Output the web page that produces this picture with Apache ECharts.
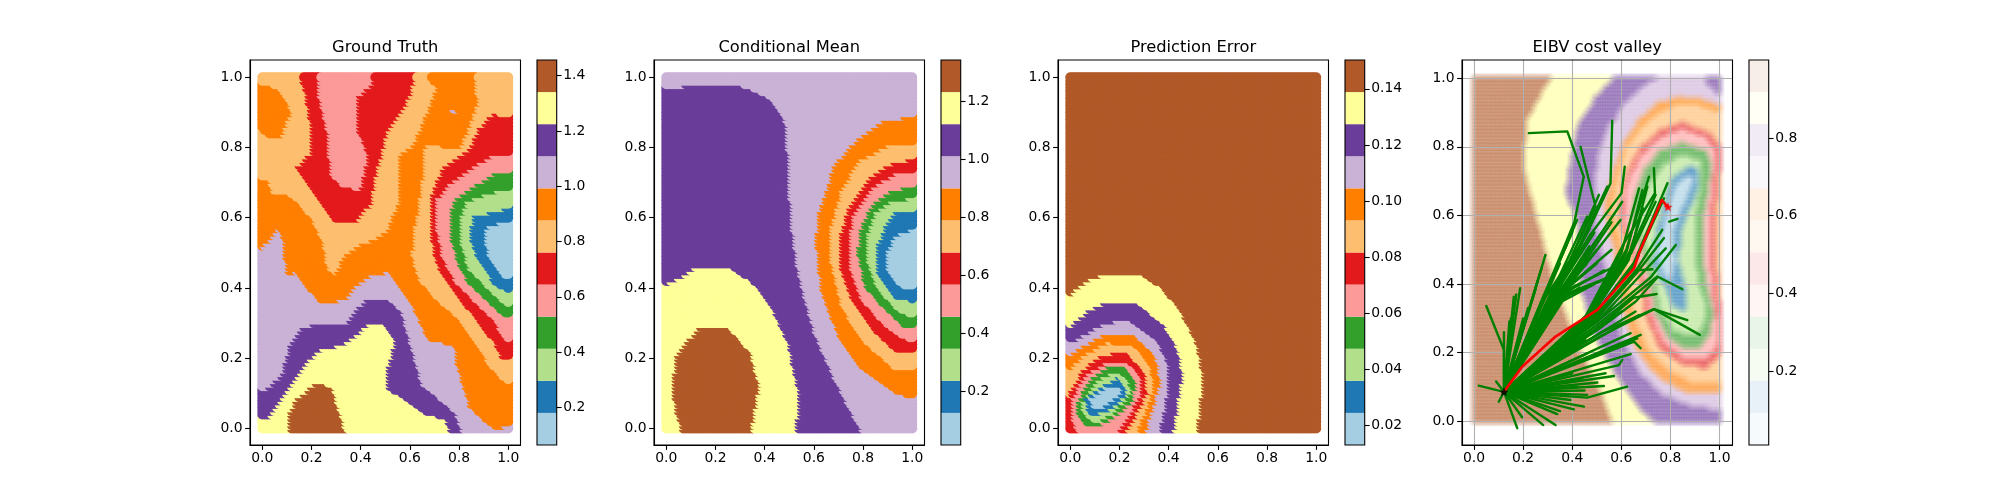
<!DOCTYPE html>
<html><head><meta charset="utf-8">
<style>html,body{margin:0;padding:0;background:#fff}#c{width:2000px;height:500px}</style>
<script src="https://cdn.jsdelivr.net/npm/echarts@6/dist/echarts.min.js"></script>
</head><body><div id="c"></div>
<script>
const paired=['#a6cee3','#1f78b4','#b2df8a','#33a02c','#fb9a99','#e31a1c','#fdbf6f','#ff7f00','#cab2d6','#6a3d9a','#ffff99','#b15928'];
const titles=['Ground Truth','Conditional Mean','Prediction Error','EIBV cost valley'];
const axisTicks=[0,0.2,0.4,0.6,0.8,1.0];
const cbRange1=[0.0637,1.4567], cbTicks1=[0.2,0.4,0.6,0.8,1.0,1.2,1.4];
const cbRange2=[0.0138,1.341],  cbTicks2=[0.2,0.4,0.6,0.8,1.0,1.2];
const cbRange3=[0.013,0.1503],  cbTicks3=[0.02,0.04,0.06,0.08,0.10,0.12,0.14];
const cbRange4=[0.0094,1.0009], cbTicks4=[0.2,0.4,0.6,0.8];

// Band outlines: [band index, outline]; later entries paint over earlier ones.
const truthBands=[
[7,[[.688,1.05],[.871,1.05],[.871,.988],[.886,.935],[.854,.869],[.814,.807],[.739,.810],[.671,.814],[.664,.736],[.644,.632],[.623,.556],[.619,.499],[.644,.432],[.712,.375],[.793,.328],[.861,.261],[.943,.176],[1.05,.10],[1.05,.024],[.956,.003],[.916,.024],[.848,.071],[.820,.138],[.793,.204],[.793,.237],[.739,.252],[.684,.256],[.623,.347],[.548,.432],[.521,.451],[.453,.446],[.392,.413],[.344,.375],[.249,.361],[.194,.404],[.147,.451],[.106,.446],[.092,.546],[.072,.575],[.004,.518],[-.05,.503],[-.05,.722],[.031,.712],[.052,.674],[.113,.670],[.160,.646],[.208,.603],[.249,.546],[.276,.461],[.303,.446],[.344,.499],[.412,.532],[.466,.546],[.521,.575],[.562,.651],[.568,.783],[.623,.817],[.671,.893],[.718,.974],[.688,.997]]],
[7,[[-.05,.978],[.024,.988],[.072,.973],[.127,.912],[.086,.840],[.031,.836],[-.05,.883]]],
[8,[[-.05,.503],[.004,.518],[.072,.575],[.092,.546],[.106,.446],[.147,.451],[.194,.404],[.249,.361],[.344,.375],[.392,.413],[.453,.446],[.521,.451],[.548,.432],[.623,.347],[.684,.256],[.739,.252],[.793,.237],[.793,.204],[.820,.138],[.848,.071],[.916,.024],[.956,.003],[1.05,.024],[1.05,-.05],[-.05,-.05]]],
[9,[[-.05,.104],[.018,.114],[.086,.157],[.120,.242],[.174,.299],[.344,.304],[.392,.347],[.439,.380],[.514,.380],[.575,.337],[.616,.232],[.657,.128],[.739,.085],[.793,.052],[.841,-.05],[-.05,-.05]]],
[10,[[-.05,.024],[.031,.038],[.127,.128],[.167,.176],[.235,.228],[.344,.247],[.453,.309],[.500,.309],[.548,.252],[.514,.166],[.514,.119],[.589,.090],[.670,.048],[.752,.033],[.793,-.05],[-.05,-.05]]],
[11,[[.113,-.05],[.120,.052],[.147,.090],[.228,.138],[.290,.124],[.324,.048],[.364,-.05]]],
[5,[[.164,1.05],[.630,1.05],[.616,.960],[.575,.912],[.521,.860],[.466,.717],[.453,.651],[.392,.599],[.303,.594],[.249,.641],[.194,.698],[.147,.751],[.208,.793],[.201,.879],[.181,.964],[.164,.998]]],
[4,[[.235,1.05],[.466,1.05],[.453,.988],[.392,.945],[.392,.860],[.439,.783],[.405,.684],[.331,.698],[.283,.726],[.276,.840],[.235,.964]]],
[8,[[.770,.916],[.800,.909],[.776,.905]]],
[5,[[1.05,.893],[.943,.902],[.888,.860],[.854,.807],[.739,.746],[.698,.670],[.691,.594],[.704,.508],[.739,.442],[.820,.366],[.888,.309],[.949,.252],[.983,.204],[1.05,.209]]],
[4,[[1.05,.779],[.956,.789],[.875,.755],[.766,.698],[.718,.660],[.718,.575],[.739,.499],[.793,.423],[.875,.366],[.956,.309],[.997,.252],[1.05,.247]]],
[3,[[1.05,.732],[.949,.732],[.875,.698],[.793,.660],[.772,.622],[.772,.556],[.806,.470],[.848,.418],[.929,.366],[.990,.323],[1.05,.318]]],
[2,[[1.05,.684],[.929,.679],[.840,.651],[.813,.603],[.813,.537],[.848,.461],[.915,.413],[.997,.356],[1.05,.352]]],
[1,[[1.05,.651],[.956,.622],[.868,.617],[.854,.556],[.875,.499],[.956,.413],[1.05,.385]]],
[0,[[1.05,.603],[.929,.584],[.915,.565],[.922,.508],[.997,.432],[1.05,.437]]]
];
const truthBase=6;

const meanBands=[
[9,[[-.05,.969],[.038,.973],[.106,.986],[.297,.986],[.420,.950],[.488,.888],[.501,.783],[.514,.594],[.542,.451],[.609,.280],[.691,.147],[.834,-.05],[-.05,-.05]]],
[10,[[-.05,.399],[.052,.432],[.120,.461],[.269,.461],[.351,.427],[.433,.356],[.501,.252],[.541,.119],[.541,.043],[.524,-.05],[-.05,-.05]]],
[11,[[.086,-.05],[.045,.062],[.031,.128],[.052,.223],[.147,.299],[.256,.299],[.351,.223],[.385,.128],[.365,.043],[.337,-.05]]],
[7,[[1.05,.899],[.895,.883],[.786,.831],[.691,.755],[.630,.622],[.616,.537],[.637,.404],[.705,.271],[.800,.176],[.922,.114],[.977,.100],[1.05,.100]]],
[6,[[1.05,.817],[.909,.812],[.786,.765],[.718,.679],[.678,.575],[.678,.480],[.718,.356],[.800,.261],[.936,.176],[1.05,.172]]],
[5,[[1.05,.779],[.922,.760],[.827,.717],[.752,.641],[.718,.556],[.718,.461],[.759,.375],[.841,.290],[.936,.228],[1.05,.221]]],
[4,[[1.05,.731],[.936,.731],[.841,.689],[.773,.622],[.752,.546],[.759,.461],[.800,.375],[.882,.309],[.977,.261],[1.05,.252]]],
[3,[[1.05,.702],[.922,.684],[.841,.641],[.800,.575],[.786,.508],[.814,.413],[.895,.347],[.977,.294],[1.05,.290]]],
[2,[[1.05,.665],[.922,.655],[.861,.622],[.827,.556],[.820,.489],[.868,.404],[.963,.332],[1.05,.323]]],
[1,[[1.05,.627],[.936,.622],[.895,.575],[.861,.518],[.868,.442],[.936,.375],[1.05,.366]]],
[0,[[1.05,.584],[.936,.556],[.902,.499],[.909,.451],[.963,.408],[1.05,.404]]]
];
const meanBase=8;

const errorBands=[
[10,[[-.05,.389],[.001,.385],[.090,.432],[.137,.442],[.301,.442],[.376,.408],[.450,.347],[.518,.252],[.546,.157],[.539,.081],[.512,-.05],[-.05,-.05]]],
[9,[[-.05,.299],[.001,.294],[.090,.347],[.137,.361],[.280,.361],[.389,.304],[.444,.233],[.464,.157],[.444,.062],[.416,-.05],[-.05,-.05]]],
[8,[[-.05,.237],[.035,.261],[.144,.304],[.239,.318],[.355,.261],[.403,.195],[.403,.100],[.355,-.05],[-.05,-.05]]],
[7,[[-.05,.185],[.063,.242],[.144,.275],[.267,.275],[.355,.214],[.376,.138],[.335,.043],[.294,-.05],[-.05,-.05]]],
[6,[[-.05,.138],[.063,.214],[.158,.252],[.267,.242],[.335,.185],[.348,.119],[.301,.033],[.253,-.05],[-.05,-.05]]],
[5,[[.001,.100],[.063,.176],[.137,.218],[.239,.223],[.314,.166],[.321,.109],[.267,.033],[.199,-.05],[.008,-.05],[-.012,.043]]],
[4,[[.015,.090],[.069,.157],[.158,.195],[.239,.195],[.294,.157],[.294,.100],[.239,.033],[.144,-.05],[.063,-.05],[.015,.033]]],
[3,[[.035,.081],[.090,.147],[.171,.190],[.233,.185],[.273,.142],[.267,.090],[.212,.052],[.124,.014],[.069,.014],[.035,.052]]],
[2,[[.056,.085],[.103,.133],[.185,.171],[.246,.147],[.253,.104],[.185,.052],[.124,.024],[.076,.033],[.056,.062]]],
[1,[[.069,.090],[.131,.123],[.199,.152],[.233,.123],[.233,.100],[.171,.062],[.103,.043],[.076,.057]]],
[0,[[.090,.090],[.158,.128],[.205,.128],[.219,.109],[.151,.071],[.103,.062]]]
];
const errorBase=11;

const costBands=[
[10,[[.33,1.05],[.318,1.01],[.216,.879],[.203,.742],[.250,.616],[.278,.538],[.332,.393],[.441,.198],[.509,.101],[.59,-.05],[1.05,-.05],[1.05,1.05]]],
[9,[[.59,1.05],[.577,1.01],[.495,.947],[.420,.859],[.393,.762],[.373,.665],[.420,.587],[.44,.49],[.43,.40],[.454,.344],[.495,.247],[.577,.140],[.659,.052],[.740,-.006],[.76,-.05],[1.05,-.05],[1.05,1.05]]],
[8,[[.79,1.05],[.781,1.01],[.70,.985],[.62,.93],[.55,.86],[.51,.78],[.495,.71],[.49,.62],[.50,.56],[.53,.47],[.55,.38],[.60,.25],[.68,.14],[.77,.08],[.89,.045],[1.05,.033],[1.05,.96],[.99,.96],[.95,.985],[.91,1.05]]],
[7,[[1.05,.91],[.931,.942],[.835,.951],[.75,.93],[.67,.88],[.605,.81],[.565,.72],[.53,.626],[.577,.490],[.590,.393],[.618,.295],[.672,.198],[.754,.130],[.863,.086],[1.05,.086]]],
[6,[[1.05,.888],[.917,.922],[.835,.927],[.755,.90],[.685,.86],[.62,.80],[.585,.713],[.56,.62],[.611,.490],[.631,.393],[.659,.295],[.713,.208],[.795,.150],[.890,.116],[1.05,.111]]],
[5,[[.97,.84],[.849,.874],[.76,.85],[.68,.80],[.635,.742],[.605,.684],[.592,.587],[.659,.461],[.686,.393],[.699,.315],[.754,.218],[.849,.169],[.944,.155],[1.0,.19],[1.02,.25],[1.0,.36],[.985,.47],[.985,.60],[1.0,.72],[1.02,.79]]],
[4,[[.95,.83],[.85,.855],[.75,.825],[.675,.77],[.64,.72],[.615,.67],[.61,.59],[.675,.46],[.705,.39],[.72,.32],[.77,.235],[.85,.19],[.94,.18],[.985,.21],[1.0,.26],[.98,.36],[.965,.47],[.965,.60],[.98,.72],[.99,.78]]],
[3,[[.95,.79],[.85,.815],[.76,.79],[.70,.74],[.665,.68],[.645,.60],[.70,.47],[.725,.39],[.74,.32],[.79,.25],[.85,.22],[.93,.22],[.965,.26],[.975,.32],[.95,.40],[.935,.47],[.935,.60],[.96,.70],[.97,.75]]],
[2,[[.93,.76],[.85,.78],[.78,.75],[.72,.70],[.685,.64],[.67,.58],[.72,.47],[.745,.39],[.76,.33],[.81,.27],[.87,.25],[.92,.26],[.945,.30],[.945,.34],[.92,.40],[.905,.47],[.905,.60],[.93,.70]]],
[1,[[.876,.747],[.808,.713],[.747,.568],[.727,.461],[.78,.393],[.808,.334],[.863,.325],[.869,.363],[.835,.47],[.849,.568],[.917,.684],[.910,.738]]],
[0,[[.876,.718],[.822,.694],[.781,.597],[.747,.509],[.754,.461],[.80,.40],[.822,.47],[.81,.548],[.863,.645],[.897,.713]]]
];
const costBase=11;

const startPoint=[.122,.086];
const endPoint=[.79,.625];
const chosenPath=[[.122,.086],[.196,.159],[.332,.247],[.502,.325],[.563,.373],[.652,.446],[.672,.49],[.765,.645],[.79,.624]];
const strayPaths=[[[.795,.582],[.829,.59]]];
const candidatePaths=[
[[.122,.208],[.05,.336]],[[.122,.26]],[[.144,.291]],[[.15,.30]],[[.162,.363]],[[.172,.37]],[[.188,.388]],
[[.20,.30]],[[.22,.33]],[[.25,.383]],[[.26,.41]],[[.275,.446]],[[.291,.485]],
[[.38,.519]],[[.407,.577]],[[.42,.587]],[[.30,.35],[.461,.597]],
[[.28,.36],[.40,.55],[.447,.713],[.38,.845],[.223,.84]],
[[.29,.36],[.39,.47],[.495,.626],[.434,.80]],
[[.32,.38],[.454,.538],[.556,.694],[.563,.876]],
[[.34,.39],[.47,.54],[.601,.665],[.614,.742]],
[[.33,.37],[.509,.66]],[[.33,.36],[.543,.684]],[[.36,.38],[.604,.64]],[[.36,.37],[.597,.587]],[[.35,.36],[.56,.58]],[[.34,.37],[.52,.55]],[[.32,.36],[.49,.55]],[[.31,.36],[.47,.56]],[[.44,.52]],[[.42,.50]],[[.40,.48]],[[.38,.45]],[[.36,.42]],[[.35,.46]],[[.33,.40]],
[[.34,.37],[.46,.46]],[[.35,.37],[.50,.46]],[[.36,.37],[.53,.44]],[[.37,.37],[.55,.42]],[[.36,.36],[.52,.41]],[[.36,.35],[.49,.40]],[[.35,.35],[.43,.39]],[[.37,.38],[.57,.45]],[[.38,.39],[.56,.50]],[[.36,.38],[.50,.50]],[[.35,.38],[.47,.51]],
[[.45,.30],[.611,.519],[.737,.665],[.733,.738]],
[[.46,.31],[.60,.49],[.672,.679]],[[.46,.31],[.62,.50],[.713,.713]],[[.47,.31],[.62,.49],[.686,.674]],[[.47,.31],[.64,.50],[.74,.66]],[[.48,.31],[.64,.49],[.74,.64]],[[.47,.30],[.63,.47],[.706,.684]],[[.47,.30],[.62,.46],[.69,.62]],[[.49,.31],[.65,.46],[.788,.694]],[[.49,.31],[.66,.47],[.774,.65]],[[.49,.30],[.66,.44],[.767,.558]],[[.50,.30],[.66,.43],[.774,.534]],[[.50,.29],[.67,.42],[.781,.504]],[[.50,.29],[.72,.42],[.822,.514]],[[.49,.29],[.66,.44],[.727,.443]],[[.48,.30],[.64,.44],[.672,.485]],
[[.50,.28],[.747,.422],[.849,.385]],[[.50,.27],[.65,.36],[.744,.371]],[[.51,.27],[.66,.35],[.747,.42]],
[[.52,.26],[.733,.327],[.869,.295]],[[.52,.25],[.733,.327],[.92,.252]],
[[.60,.32]],[[.658,.32]],[[.672,.31]],[[.638,.257]],[[.679,.252]],[[.652,.232],[.679,.213]],[[.665,.242]],[[.638,.196]],[[.59,.164],[.604,.179]],[[.57,.132]],[[.536,.14]],[[.461,.069],[.624,.101]],
[[.529,.103]],[[.502,.113]],[[.44,.125]],[[.40,.14]],[[.461,.077]],[[.448,.043]],[[.407,.035]],[[.393,.062]],[[.339,.021]],[[.332,-.011]],[[.282,-.011]],[[.196,.012]],[[.176,-.02]],[[.019,.104]],[[.09,.116]],[[.101,.057]],
[[.454,.237]],[[.434,.237]],[[.461,.198]],[[.35,.03]],[[.45,.09]],[[.42,.10]]
];

const FONT='"DejaVu Sans"';
const sitesPerSide=101;
const starPath='path://M0,-10 L2.94,-3.09 L9.51,-3.09 L4.76,1.55 L5.88,8.09 L0,4.5 L-5.88,8.09 L-4.76,1.55 L-9.51,-3.09 L-2.94,-3.09 Z';

function inside(px,py,poly){
  let c=false;
  for(let i=0,j=poly.length-1;i<poly.length;j=i++){
    const a=poly[i],b=poly[j];
    if((a[1]>py)!==(b[1]>py)&&px<(b[0]-a[0])*(py-a[1])/(b[1]-a[1])+a[0])c=!c;
  }
  return c;
}
function sample(bands,base){
  const out=[];
  for(let r=0;r<sitesPerSide;r++){
    for(let k=0;k<sitesPerSide;k++){
      const x=k/(sitesPerSide-1),y=r/(sitesPerSide-1);
      let v=base;
      for(const b of bands) if(inside(x,y,b[1])) v=b[0];
      out.push([x,y,v]);
    }
  }
  return out;
}
const fields=[[truthBands,truthBase],[meanBands,meanBase],[errorBands,errorBase],[costBands,costBase]];
const cbRanges=[cbRange1,cbRange2,cbRange3,cbRange4];
const cbTicks=[cbTicks1,cbTicks2,cbTicks3,cbTicks4];
const cbDigits=[1,1,2,1];
const plotLeft=[250,654,1058,1462], cbLeft=[537,941,1345,1749];
const yLimits=[[-.047,1.049],[-.047,1.049],[-.047,1.049],[-.069,1.053]];
const xLimits=[[-.05,1.05],[-.05,1.05],[-.05,1.05],[-.049,1.053]];

const grid=[],xAxis=[],yAxis=[],series=[],title=[];
const black='#000';
function ax(extra){
  return Object.assign({
    type:'value',
    axisLine:{show:true,onZero:false,lineStyle:{color:black,width:1.1}},
    axisTick:{show:true,length:4.9,lineStyle:{color:black,width:1.1}},
    axisLabel:{show:true,fontFamily:FONT,fontSize:13.9,color:black,margin:6.5},
    splitLine:{show:false}
  },extra);
}
for(let i=0;i<4;i++){
  const gi=grid.length;
  grid.push({left:plotLeft[i],top:60,width:270.5,height:385,show:true,borderColor:black,borderWidth:1.1,backgroundColor:'transparent',z:6});
  const g=i===3;
  const fmt=v=>v.toFixed(1);
  const xa=ax({gridIndex:gi,min:xLimits[i][0],max:xLimits[i][1],position:'bottom',z:g?3:0});
  xa.axisTick.customValues=axisTicks; xa.axisLabel.customValues=axisTicks; xa.axisLabel.formatter=fmt;
  const ya=ax({gridIndex:gi,min:yLimits[i][0],max:yLimits[i][1],position:'left',z:g?3:0});
  ya.axisTick.customValues=axisTicks; ya.axisLabel.customValues=axisTicks; ya.axisLabel.formatter=fmt; ya.axisLabel.margin=7.5;
  if(g){xa.splitLine={show:true,lineStyle:{color:'#b0b0b0',width:1.1}};ya.splitLine={show:true,lineStyle:{color:'#b0b0b0',width:1.1}};}
  xAxis.push(xa);yAxis.push(ya);
  title.push({text:titles[i],left:plotLeft[i]+130.25,top:35,textAlign:'center',textStyle:{fontFamily:FONT,fontSize:16.3,fontWeight:'normal',color:black}});
  series.push({type:'scatter',xAxisIndex:gi,yAxisIndex:gi,data:sample(fields[i][0],fields[i][1]),symbol:'circle',symbolSize:10,
    progressive:0,silent:true,z:2,
    itemStyle:{opacity:g?0.1:1,color:p=>paired[p.value[2]]}});
  if(g){
    const line=(paths,color,z,w)=>series.push({type:'lines',coordinateSystem:'cartesian2d',polyline:true,xAxisIndex:gi,yAxisIndex:gi,silent:true,z,
      lineStyle:{color,width:w,opacity:1,cap:'round',join:'round'},data:paths.map(c=>({coords:c}))});
    line(candidatePaths.map(p=>[startPoint].concat(p)).concat(strayPaths),'#008000',4,2.4);
    line([chosenPath],'#ff0000',5,2.6);
    series.push({type:'scatter',xAxisIndex:gi,yAxisIndex:gi,silent:true,z:6,symbol:starPath,symbolSize:9,itemStyle:{color:'#000'},data:[startPoint]});
    series.push({type:'scatter',xAxisIndex:gi,yAxisIndex:gi,silent:true,z:6,symbol:starPath,symbolSize:9,itemStyle:{color:'#ff0000'},data:[endPoint]});
  }
  // colour bar
  const ci=grid.length;
  grid.push({left:cbLeft[i],top:60,width:19.7,height:385,show:true,borderColor:black,borderWidth:1.1,backgroundColor:'transparent',z:6});
  const cx=ax({gridIndex:ci,min:0,max:1,show:false});
  const cy=ax({gridIndex:ci,min:cbRanges[i][0],max:cbRanges[i][1],position:'right'});
  cy.axisLine.show=false;
  cy.axisTick.customValues=cbTicks[i];cy.axisLabel.customValues=cbTicks[i];
  const dg=cbDigits[i];cy.axisLabel.formatter=v=>v.toFixed(dg);
  xAxis.push(cx);yAxis.push(cy);
  const lo=cbRanges[i][0],hi=cbRanges[i][1];
  const cells=paired.map((c,k)=>[0,lo+(hi-lo)*k/12,1,lo+(hi-lo)*(k+1)/12,k]);
  series.push({type:'custom',xAxisIndex:ci,yAxisIndex:ci,silent:true,z:2,data:cells,encode:{x:[0,2],y:[1,3]},
    renderItem:(params,api)=>{
      const a=api.coord([api.value(0),api.value(1)]),b=api.coord([api.value(2),api.value(3)]);
      return {type:'rect',shape:{x:a[0],y:b[1],width:b[0]-a[0],height:a[1]-b[1]},
        style:{fill:paired[api.value(4)],opacity:g?0.1:1}};
    }});
}
const chart=echarts.init(document.getElementById('c'),null,{renderer:'canvas'});
chart.setOption({animation:false,backgroundColor:'#fff',title,grid,xAxis,yAxis,series});
</script></body></html>
